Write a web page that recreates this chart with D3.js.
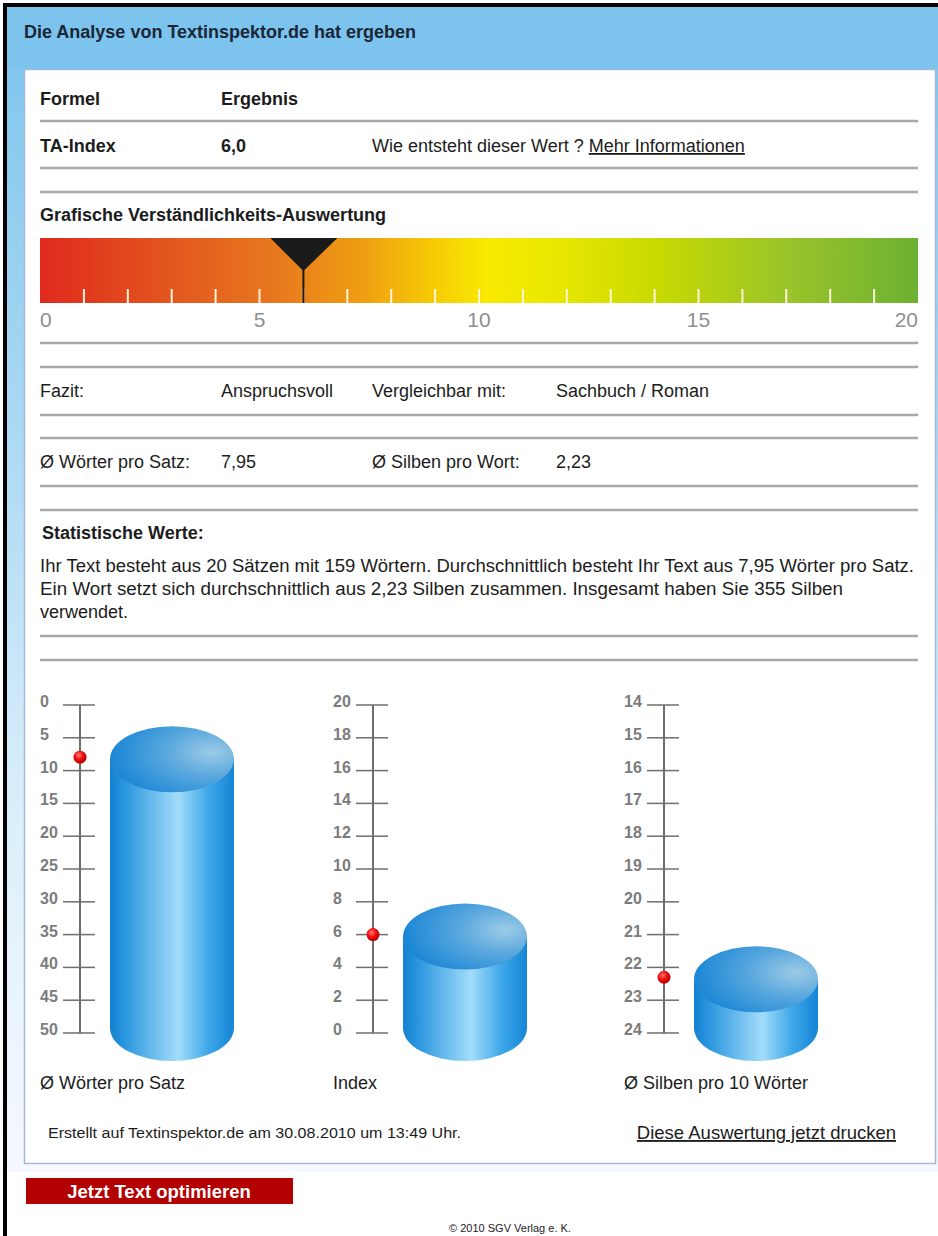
<!DOCTYPE html>
<html>
<head>
<meta charset="utf-8">
<script src="https://cdn.jsdelivr.net/npm/d3@7"></script>
<style>
  html, body { margin: 0; padding: 0; background: #fff; }
  svg { display: block; }
  text { font-family: "Liberation Sans", Arial, sans-serif; }
</style>
</head>
<body>
<div id="chart"></div>
<script>
// ---- data ----
const pageTitle = 'Die Analyse von Textinspektor.de hat ergeben';
const tableHeader = ['Formel', 'Ergebnis'];
const taRow = ['TA-Index', '6,0', 'Wie entsteht dieser Wert ?', 'Mehr Informationen'];
const gaugeTitle = 'Grafische Verständlichkeits-Auswertung';
const gaugeDomain = [0, 20];
const gaugeLabels = [0, 5, 10, 15, 20];
const gaugeMinorTicks = [1, 2, 3, 4, 5, 6, 7, 8, 9, 10, 11, 12, 13, 14, 15, 16, 17, 18, 19];
const taIndex = 6.0;
const fazitRow = ['Fazit:', 'Anspruchsvoll', 'Vergleichbar mit:', 'Sachbuch / Roman'];
const avgRow = ['Ø Wörter pro Satz:', '7,95', 'Ø Silben pro Wort:', '2,23'];
const statsTitle = 'Statistische Werte:';
const statsLines = [
  'Ihr Text besteht aus 20 Sätzen mit 159 Wörtern. Durchschnittlich besteht Ihr Text aus 7,95 Wörter pro Satz.',
  'Ein Wort setzt sich durchschnittlich aus 2,23 Silben zusammen. Insgesamt haben Sie 355 Silben',
  'verwendet.'
];
const chartNames = ['Ø Wörter pro Satz', 'Index', 'Ø Silben pro 10 Wörter'];
const chartValues = [7.95, 6.0, 22.3];
// domain is [top of scale, bottom of scale]
const chartDomains = [[0, 50], [20, 0], [14, 24]];
const chartTicks = [
  [0, 5, 10, 15, 20, 25, 30, 35, 40, 45, 50],
  [20, 18, 16, 14, 12, 10, 8, 6, 4, 2, 0],
  [14, 15, 16, 17, 18, 19, 20, 21, 22, 23, 24]
];
const footerNote = 'Erstellt auf Textinspektor.de am 30.08.2010 um 13:49 Uhr.';
const printLink = 'Diese Auswertung jetzt drucken';
const buttonLabel = 'Jetzt Text optimieren';
const copyright = '© 2010 SGV Verlag e. K.';

// ---- layout ----
const W = 938, H = 1236;
const colX = [40, 221, 372, 556];
const ruleYs = [121, 168, 192, 343, 367, 415, 438, 486, 510, 636, 660];
const axisXs = [80, 373, 664];
const statsWidths = [874, 803, null];

const svg = d3.select('#chart').append('svg')
  .attr('width', W)
  .attr('height', H);

const defs = svg.append('defs');

const bgGrad = defs.append('linearGradient').attr('id', 'bgGrad')
  .attr('x1', 0).attr('y1', 0).attr('x2', 0).attr('y2', 1);
[[0, '#7cc4ee'], [0.35, '#a9d8f3'], [0.7, '#dceffa'], [1, '#f6f8ff']]
  .forEach(([o, c]) => bgGrad.append('stop').attr('offset', o).attr('stop-color', c));

const gaugeGrad = defs.append('linearGradient').attr('id', 'gaugeGrad');
[[0, '#e02a1e'], [0.12, '#e24e1e'], [0.27, '#e7791e'], [0.37, '#efa012'],
 [0.45, '#f6cc04'], [0.51, '#f8ea00'], [0.6, '#e6e600'], [0.7, '#c8da00'],
 [0.85, '#9ac42a'], [1, '#6cb132']]
  .forEach(([o, c]) => gaugeGrad.append('stop').attr('offset', o).attr('stop-color', c));

const bodyGrad = defs.append('linearGradient').attr('id', 'cylBody');
[[0, '#1680d2'], [0.12, '#2a96de'], [0.55, '#a2dcfa'], [0.8, '#3ca6e8'], [1, '#1584d6']]
  .forEach(([o, c]) => bodyGrad.append('stop').attr('offset', o).attr('stop-color', c));

const topGrad = defs.append('radialGradient').attr('id', 'cylTop')
  .attr('cx', 0.82).attr('cy', 0.4).attr('r', 0.8);
[[0, '#9ccbe6'], [0.45, '#5aa8de'], [1, '#1e88d6']]
  .forEach(([o, c]) => topGrad.append('stop').attr('offset', o).attr('stop-color', c));

const dotGrad = defs.append('radialGradient').attr('id', 'dotGrad')
  .attr('cx', 0.4).attr('cy', 0.35).attr('r', 0.65);
[[0, '#ff7a7a'], [0.5, '#f01010'], [1, '#b00000']]
  .forEach(([o, c]) => dotGrad.append('stop').attr('offset', o).attr('stop-color', c));

// ---- page frame ----
svg.append('rect').attr('x', 7).attr('y', 7).attr('width', W - 7).attr('height', 1165)
  .attr('fill', 'url(#bgGrad)');
svg.append('rect').attr('x', 7).attr('y', 7).attr('width', W - 7).attr('height', 62)
  .attr('fill', '#7cc4ee');
svg.append('rect').attr('x', 3).attr('y', 3).attr('width', W - 3).attr('height', 4).attr('fill', '#000');
svg.append('rect').attr('x', 3).attr('y', 3).attr('width', 4).attr('height', H - 3).attr('fill', '#000');

const txt = (x, y, s, opts = {}) => svg.append('text')
  .attr('x', x).attr('y', y)
  .attr('font-size', opts.size || 18)
  .attr('font-weight', opts.bold ? 'bold' : 'normal')
  .attr('fill', opts.fill || '#1c1c1c')
  .attr('text-decoration', opts.underline ? 'underline' : null)
  .attr('text-anchor', opts.anchor || 'start')
  .attr('textLength', opts.len || null)
  .attr('lengthAdjust', opts.len ? 'spacingAndGlyphs' : null)
  .text(s);

txt(24, 38, pageTitle, {bold: true, fill: '#1b2636'});

svg.append('rect').attr('x', 24.5).attr('y', 69.5).attr('width', 911).attr('height', 1094)
  .attr('fill', '#fff').attr('stroke', '#a9b6dc').attr('stroke-width', 1.5);

// separator rules
svg.append('g').selectAll('line').data(ruleYs).join('line')
  .attr('x1', 40).attr('x2', 918)
  .attr('y1', d => d).attr('y2', d => d)
  .attr('stroke', '#a8a8a8').attr('stroke-width', 2.5);

// ---- table ----
tableHeader.forEach((s, i) => txt(colX[i], 105, s, {bold: true}));
txt(colX[0], 152, taRow[0], {bold: true});
txt(colX[1], 152, taRow[1], {bold: true});
const wie = txt(colX[2], 152, taRow[2]);
const wieW = wie.node().getComputedTextLength();
txt(colX[2] + wieW + 5, 152, taRow[3], {underline: true});

txt(colX[0], 221, gaugeTitle, {bold: true});

// ---- gauge ----
const gx = d3.scaleLinear().domain(gaugeDomain).range([40, 918]);
const gTop = 238, gBot = 303;
svg.append('rect').attr('x', gx(0)).attr('y', gTop)
  .attr('width', gx(20) - gx(0)).attr('height', gBot - gTop)
  .attr('fill', 'url(#gaugeGrad)');
svg.append('g').selectAll('line').data(gaugeMinorTicks).join('line')
  .attr('x1', d => gx(d)).attr('x2', d => gx(d))
  .attr('y1', gBot - 14).attr('y2', gBot)
  .attr('stroke', '#fff4d8').attr('stroke-width', 2);
const mx = gx(taIndex);
svg.append('path')
  .attr('d', `M${mx - 33},${gTop} L${mx + 34},${gTop} L${mx},${gTop + 33} Z`)
  .attr('fill', '#1a1a1a');
svg.append('line').attr('x1', mx).attr('x2', mx).attr('y1', gTop + 30).attr('y2', gBot)
  .attr('stroke', '#1a1a1a').attr('stroke-width', 2);
svg.append('g').selectAll('text').data(gaugeLabels).join('text')
  .attr('x', d => gx(d)).attr('y', 327)
  .attr('text-anchor', d => d === 0 ? 'start' : (d === 20 ? 'end' : 'middle'))
  .attr('font-size', 21).attr('fill', '#8f8f8f')
  .text(d => d);

// ---- fazit / averages ----
fazitRow.forEach((s, i) => txt(colX[i], 397, s));
avgRow.forEach((s, i) => txt(colX[i], 468, s));

txt(42, 539, statsTitle, {bold: true});
statsLines.forEach((s, i) => txt(40, 572 + i * 23, s, {len: statsWidths[i]}));

// ---- cylinder charts ----
const yTop = 705, yBot = 1033;
const cylW = 124, cylRy = 33;

chartNames.forEach((name, i) => {
  const ax = axisXs[i];
  const y = d3.scaleLinear().domain(chartDomains[i]).range([yTop, yBot]);
  const g = svg.append('g');

  // cylinder
  const cx0 = ax + 30, cx1 = cx0 + cylW, cmid = (cx0 + cx1) / 2;
  const topCy = y(chartValues[i]) + 2;
  const botCy = yBot - 5;
  g.append('path')
    .attr('d', `M${cx0},${topCy} L${cx0},${botCy} A${cylW / 2},${cylRy} 0 0 0 ${cx1},${botCy} L${cx1},${topCy} Z`)
    .attr('fill', 'url(#cylBody)');
  g.append('ellipse')
    .attr('cx', cmid).attr('cy', topCy).attr('rx', cylW / 2).attr('ry', cylRy)
    .attr('fill', 'url(#cylTop)');

  // axis
  g.append('line').attr('x1', ax).attr('x2', ax).attr('y1', yTop).attr('y2', yBot)
    .attr('stroke', '#6e6e6e').attr('stroke-width', 2);
  g.selectAll('line.tick').data(chartTicks[i]).join('line')
    .attr('class', 'tick')
    .attr('x1', ax - 17).attr('x2', ax + 15)
    .attr('y1', d => y(d)).attr('y2', d => y(d))
    .attr('stroke', '#6e6e6e').attr('stroke-width', 1.5);
  g.selectAll('text.tl').data(chartTicks[i]).join('text')
    .attr('class', 'tl')
    .attr('x', ax - 40).attr('y', d => y(d) + 2)
    .attr('font-family', '"DejaVu Sans Mono", monospace')
    .attr('font-weight', 'bold')
    .attr('font-size', 16).attr('fill', '#7c7c7c')
    .text(d => d);

  // value dot
  g.append('circle').attr('cx', ax).attr('cy', y(chartValues[i])).attr('r', 6.5)
    .attr('fill', 'url(#dotGrad)');

  txt(ax - 40, 1089, name);
});

// ---- footer ----
txt(48, 1138, footerNote, {size: 14, len: 413});
txt(896, 1139, printLink, {anchor: 'end', underline: true, size: 18.5});

svg.append('rect').attr('x', 26).attr('y', 1178).attr('width', 267).attr('height', 26)
  .attr('fill', '#b30000');
txt(159, 1197.5, buttonLabel, {bold: true, fill: '#fff', anchor: 'middle', size: 18.5});
txt(510, 1232, copyright, {size: 11, anchor: 'middle'});
</script>
</body>
</html>
